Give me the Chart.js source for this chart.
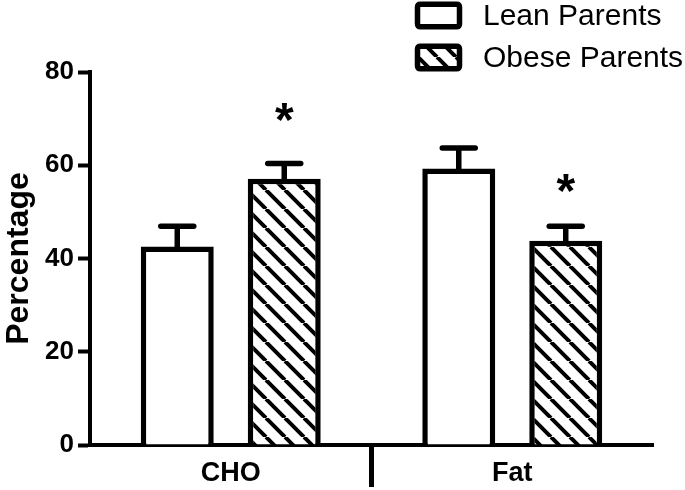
<!DOCTYPE html>
<html>
<head>
<meta charset="utf-8">
<script src="https://cdn.jsdelivr.net/npm/chart.js@4.4.1/dist/chart.umd.min.js"></script>
<style>
html,body{margin:0;padding:0;background:#fff;}
#wrap{width:685px;height:490px;}
canvas{display:block;}
</style>
</head>
<body>
<div id="wrap"><canvas id="c" width="685" height="490"></canvas></div>
<script>
// ---- data ----
const categories = ['CHO', 'Fat'];
const seriesNames = ['Lean Parents', 'Obese Parents'];
const leanMeans = [42.6, 59.3];
const leanErrors = [4.3, 4.4];
const obeseMeans = [57.1, 43.8];
const obeseErrors = [3.3, 3.1];
const leanStars = [null, null];
const obeseStars = [71.4, 56.1]; // level (in %) of the significance asterisks
const yTicks = [0, 20, 40, 60, 80];
const yTitle = 'Percentage';

const FONT = "'Liberation Sans', Arial, Helvetica, sans-serif";

function makeHatch() {
  const s = 19;
  const c = document.createElement('canvas');
  c.width = s; c.height = s;
  const g = c.getContext('2d');
  g.fillStyle = '#fff';
  g.fillRect(0, 0, s, s);
  g.strokeStyle = '#000';
  g.lineWidth = 4;
  g.beginPath();
  for (const off of [-s, 0, s]) { g.moveTo(off, 0); g.lineTo(off + s, s); }
  g.stroke();
  return g.createPattern(c, 'repeat');
}
const hatch = makeHatch();

const errorPlugin = {
  id: 'errorBars',
  afterDatasetsDraw(chart) {
    const g = chart.ctx;
    const ys = chart.scales.y;
    chart.data.datasets.forEach((ds, di) => {
      const meta = chart.getDatasetMeta(di);
      meta.data.forEach((bar, i) => {
        const x = bar.x;
        const top = ys.getPixelForValue(ds.data[i] + ds.errors[i]);
        const half = bar.width * 0.226;
        g.save();
        g.strokeStyle = '#000';
        g.lineWidth = 5.5;
        g.lineCap = 'butt';
        g.beginPath();
        g.moveTo(x, bar.y + 3);
        g.lineTo(x, top);
        g.stroke();
        g.lineCap = 'round';
        g.beginPath();
        g.moveTo(x - half, top);
        g.lineTo(x + half, top);
        g.stroke();
        if (ds.stars && ds.stars[i] != null) {
          const cy = ys.getPixelForValue(ds.stars[i]);
          g.fillStyle = '#000';
          g.font = 'bold 48px ' + FONT;
          g.textAlign = 'center';
          g.textBaseline = 'alphabetic';
          const m = g.measureText('*');
          g.fillText('*', x, cy + (m.actualBoundingBoxAscent - m.actualBoundingBoxDescent) / 2);
        }
        g.restore();
      });
    });
  }
};

function rrect(g, x, y, w, h, r) {
  g.beginPath();
  g.moveTo(x + r, y);
  g.lineTo(x + w - r, y);
  g.quadraticCurveTo(x + w, y, x + w, y + r);
  g.lineTo(x + w, y + h - r);
  g.quadraticCurveTo(x + w, y + h, x + w - r, y + h);
  g.lineTo(x + r, y + h);
  g.quadraticCurveTo(x, y + h, x, y + h - r);
  g.lineTo(x, y + r);
  g.quadraticCurveTo(x, y, x + r, y);
  g.closePath();
}

const legendPlugin = {
  id: 'sideLegend',
  afterDraw(chart) {
    const g = chart.ctx;
    const boxX = 417.5, boxW = 42, boxH = 22.5;
    const rowCenters = [15.5, 57.5];
    chart.data.datasets.forEach((ds, i) => {
      const cy = rowCenters[i];
      g.save();
      rrect(g, boxX, cy - boxH / 2, boxW, boxH, 3);
      g.fillStyle = ds.backgroundColor;
      g.fill();
      g.lineWidth = 5.5;
      g.strokeStyle = '#000';
      g.lineJoin = 'round';
      g.stroke();
      g.fillStyle = '#000';
      g.font = '30px ' + FONT;
      g.textAlign = 'left';
      g.textBaseline = 'middle';
      g.fillText(ds.label, 483, cy + 1);
      g.restore();
    });
  }
};

new Chart(document.getElementById('c'), {
  type: 'bar',
  data: {
    labels: categories,
    datasets: [
      { label: seriesNames[0], data: leanMeans, errors: leanErrors, stars: leanStars,
        backgroundColor: '#fff', borderColor: '#000', borderWidth: 5.5 },
      { label: seriesNames[1], data: obeseMeans, errors: obeseErrors, stars: obeseStars,
        backgroundColor: hatch, borderColor: '#000', borderWidth: 5.5 }
    ]
  },
  options: {
    responsive: false,
    animation: false,
    devicePixelRatio: 1,
    categoryPercentage: 0.76,
    barPercentage: 0.682,
    layout: { padding: { top: 72, right: 32, bottom: 0, left: 0 } },
    plugins: { legend: { display: false }, tooltip: { enabled: false } },
    scales: {
      x: {
        z: 1,
        grid: {
          offset: true, drawOnChartArea: false, drawTicks: true,
          tickLength: 42, tickWidth: 5,
          tickColor: (c) => (c.index === 1 ? '#000' : 'rgba(0,0,0,0)')
        },
        border: { display: true, color: '#000', width: 4 },
        ticks: { color: '#000', font: { family: FONT, size: 27, weight: 'bold' }, padding: -30 },
        afterFit: (s) => { s.height = 45; }
      },
      y: {
        z: 1,
        min: 0, max: 80,
        afterBuildTicks: (s) => { s.ticks = yTicks.map(v => ({ value: v })); },
        grid: { drawOnChartArea: false, drawTicks: true, tickLength: 12, tickWidth: 4, tickColor: '#000' },
        border: { display: true, color: '#000', width: 4 },
        ticks: { color: '#000', font: { family: FONT, size: 26, weight: 'bold' }, padding: 4 },
        title: { display: true, text: yTitle, color: '#000',
                 font: { family: FONT, size: 32, weight: 'bold' }, padding: { top: 0, bottom: 0 } },
        afterFit: (s) => { s.width = 90; }
      }
    }
  },
  plugins: [errorPlugin, legendPlugin]
});
</script>
</body>
</html>
